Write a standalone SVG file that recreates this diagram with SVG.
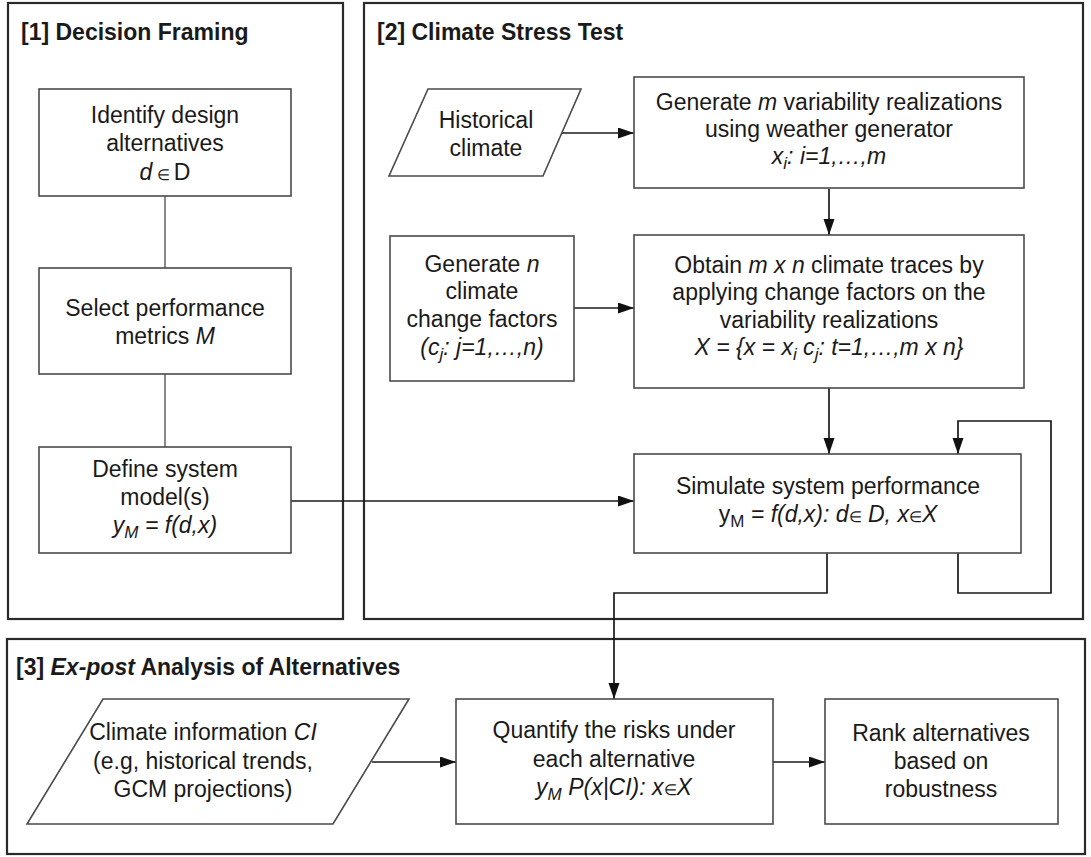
<svg xmlns="http://www.w3.org/2000/svg" width="1091" height="857" viewBox="0 0 1091 857">
  <defs>
    <marker id="arrow" markerUnits="userSpaceOnUse" markerWidth="16" markerHeight="12" refX="16" refY="5.5" orient="auto">
      <path d="M0,0 L16,5.5 L0,11 z" fill="#111"/>
    </marker>
    <style>
      text { font-family: "Liberation Sans", Arial, Helvetica, sans-serif; font-size: 23px; fill: #1a1a1a; }
      .title { font-weight: bold; }
      .c { text-anchor: middle; }
      .i { font-style: italic; }
      .sub { font-size: 17px; }
      .el { font-size: 15px; font-style: normal; }
      .panel { fill: none; stroke: #2a2a2a; stroke-width: 2.2; }
      .box { fill: #fff; stroke: #4a4a4a; stroke-width: 1.6; }
      .link { fill: none; stroke: #1a1a1a; stroke-width: 1.7; }
      .plain { fill: none; stroke: #555; stroke-width: 1.4; }
    </style>
  </defs>
  <rect width="1091" height="857" fill="#fff"/>

  <!-- panel frames -->
  <g id="panel-decision-framing">
    <rect class="panel" x="8" y="3" width="335" height="616"/>
    <text class="title" x="21" y="40">[1] Decision Framing</text>
  </g>
  <g id="panel-stress-test">
    <rect class="panel" x="364" y="3" width="719" height="616"/>
    <text class="title" x="377" y="40">[2] Climate Stress Test</text>
  </g>
  <g id="panel-ex-post">
    <rect class="panel" x="7" y="639" width="1078" height="215"/>
    <text class="title" x="16" y="675">[3] <tspan font-style="italic">Ex-post</tspan> Analysis of Alternatives</text>
  </g>

  <!-- connectors -->
  <g id="connectors">
    <path class="plain" d="M165,196 V268"/>
    <path class="plain" d="M165,374 V447"/>
    <path class="link" d="M561,133 H634" marker-end="url(#arrow)"/>
    <path class="link" d="M829,189 V235" marker-end="url(#arrow)"/>
    <path class="link" d="M574,308 H634" marker-end="url(#arrow)"/>
    <path class="link" d="M829,388 V454" marker-end="url(#arrow)"/>
    <path class="link" d="M291,501 H634" marker-end="url(#arrow)"/>
    <path class="link" d="M958,553 V593 H1051 V421 H958 V454" marker-end="url(#arrow)"/>
    <path class="link" d="M827,553 V593 H614 V699" marker-end="url(#arrow)"/>
    <path class="link" d="M372,762 H456" marker-end="url(#arrow)"/>
    <path class="link" d="M773,762 H825" marker-end="url(#arrow)"/>
  </g>

  <!-- [1] decision framing -->
  <g id="identify-alternatives">
    <rect class="box" x="39" y="89" width="252" height="107"/>
    <text class="c" x="165" y="123">Identify design</text>
    <text class="c" x="165" y="151">alternatives</text>
    <text class="c" x="165" y="180"><tspan class="i">d</tspan><tspan class="el"> ∈ </tspan>D</text>
  </g>
  <g id="select-metrics">
    <rect class="box" x="39" y="268" width="252" height="106"/>
    <text class="c" x="165" y="316">Select performance</text>
    <text class="c" x="165" y="344">metrics <tspan class="i">M</tspan></text>
  </g>
  <g id="define-model">
    <rect class="box" x="39" y="447" width="252" height="106"/>
    <text class="c" x="165" y="477">Define system</text>
    <text class="c" x="165" y="505">model(s)</text>
    <text class="c i" x="165" y="533">y<tspan class="sub" dy="5">M</tspan><tspan dy="-5"> = f(d,x)</tspan></text>
  </g>

  <!-- [2] climate stress test -->
  <g id="historical-climate">
    <polygon class="box" points="428,89 581,89 543,176 389,176"/>
    <text class="c" x="486" y="128">Historical</text>
    <text class="c" x="486" y="156">climate</text>
  </g>
  <g id="variability-realizations">
    <rect class="box" x="634" y="77" width="390" height="111"/>
    <text class="c" x="829" y="110">Generate <tspan class="i">m</tspan> variability realizations</text>
    <text class="c" x="829" y="137">using weather generator</text>
    <text class="c i" x="829" y="164">x<tspan class="sub" dy="5">i</tspan><tspan dy="-5">: i=1,…,m</tspan></text>
  </g>
  <g id="change-factors">
    <rect class="box" x="390" y="236" width="184" height="145"/>
    <text class="c" x="482" y="272">Generate <tspan class="i">n</tspan></text>
    <text class="c" x="482" y="299">climate</text>
    <text class="c" x="482" y="327">change factors</text>
    <text class="c i" x="482" y="355">(c<tspan class="sub" dy="5">j</tspan><tspan dy="-5">: j=1,…,n)</tspan></text>
  </g>
  <g id="climate-traces">
    <rect class="box" x="634" y="235" width="390" height="153"/>
    <text class="c" x="829" y="273">Obtain <tspan class="i">m x n</tspan> climate traces by</text>
    <text class="c" x="829" y="300">applying change factors on the</text>
    <text class="c" x="829" y="328">variability realizations</text>
    <text class="c i" x="829" y="355">X = {x = x<tspan class="sub" dy="5">i</tspan><tspan dy="-5"> c</tspan><tspan class="sub" dy="5">j</tspan><tspan dy="-5">: t=1,…,m x n}</tspan></text>
  </g>
  <g id="simulate-performance">
    <rect class="box" x="634" y="454" width="387" height="99"/>
    <text class="c" x="828" y="494">Simulate system performance</text>
    <text class="c" x="828" y="522">y<tspan class="sub" dy="5">M</tspan><tspan class="i" dy="-5"> = f(d,x): d</tspan><tspan class="el">∈</tspan><tspan class="i"> D, x</tspan><tspan class="el">∈</tspan><tspan class="i">X</tspan></text>
  </g>

  <!-- [3] ex-post analysis -->
  <g id="climate-information">
    <polygon class="box" points="103,699 409,699 333,824 27,824"/>
    <text class="c" x="203" y="740">Climate information <tspan class="i">CI</tspan></text>
    <text class="c" x="203" y="769">(e.g, historical trends,</text>
    <text class="c" x="203" y="797">GCM projections)</text>
  </g>
  <g id="quantify-risks">
    <rect class="box" x="456" y="699" width="317" height="125"/>
    <text class="c" x="614" y="738">Quantify the risks under</text>
    <text class="c" x="614" y="767">each alternative</text>
    <text class="c i" x="614" y="795">y<tspan class="sub" dy="5">M</tspan><tspan dy="-5"> P(x|CI): x</tspan><tspan class="el">∈</tspan><tspan>X</tspan></text>
  </g>
  <g id="rank-alternatives">
    <rect class="box" x="825" y="699" width="233" height="125"/>
    <text class="c" x="941" y="741">Rank alternatives</text>
    <text class="c" x="941" y="769">based on</text>
    <text class="c" x="941" y="797">robustness</text>
  </g>
</svg>
